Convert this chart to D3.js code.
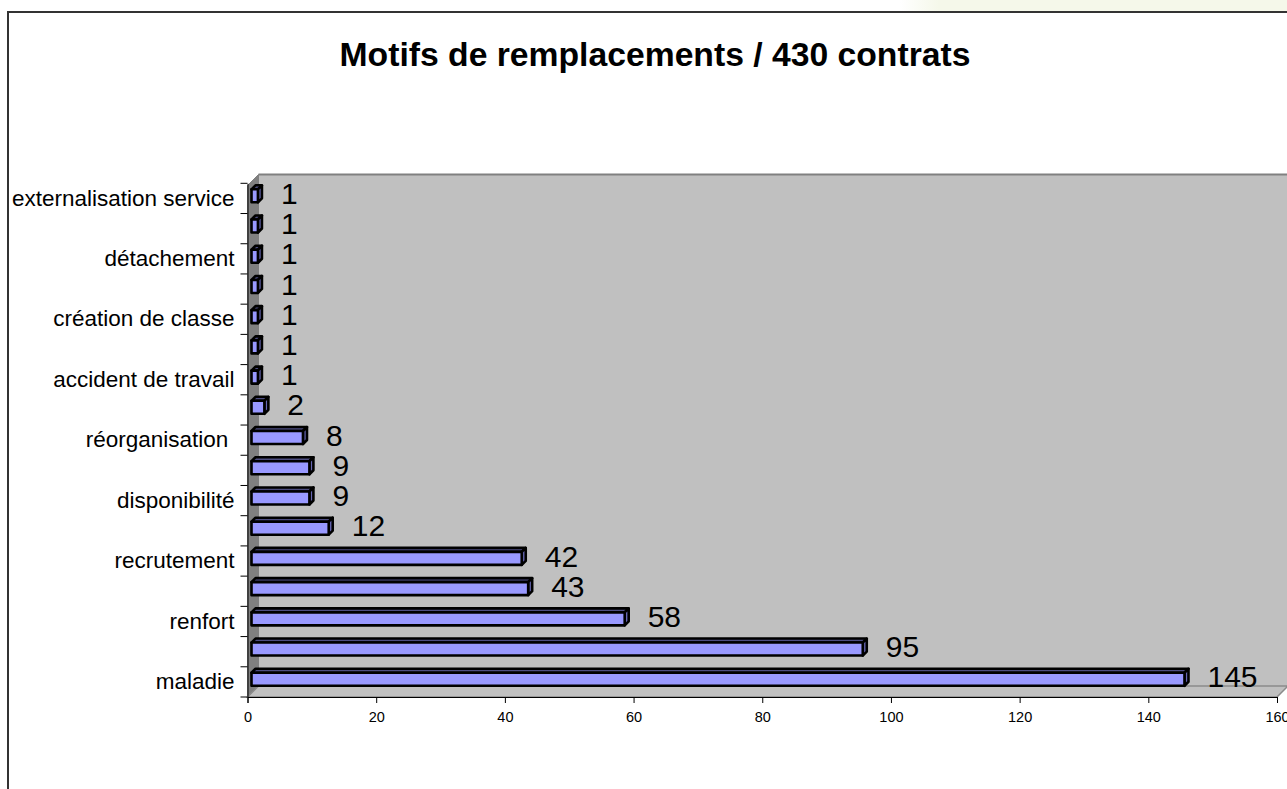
<!DOCTYPE html>
<html>
<head>
<meta charset="utf-8">
<script src="https://cdn.jsdelivr.net/npm/d3@7/dist/d3.min.js"></script>
<style>
  body { margin: 0; background: #fff; }
  text { font-family: Arial, "Liberation Sans", sans-serif; }
</style>
</head>
<body>
<svg id="chart" width="1287" height="789"></svg>
<script>
// data, bottom to top as in the sheet (only every other label shown)
const categories = ["maladie", "", "renfort", "", "recrutement", "", "disponibilité", "",
  "réorganisation ", "", "accident de travail", "", "création de classe", "", "détachement", "",
  "externalisation service"];
const values = [145, 95, 58, 43, 42, 12, 9, 9, 8, 2, 1, 1, 1, 1, 1, 1, 1];
const xTicks = [0, 20, 40, 60, 80, 100, 120, 140, 160];

const X0 = 247.5, X1 = 1277, YBOT = 697, YTOP = 183.3
const DEPTH = 11          // wall depth, along (+1,-1)
const D1 = 4, D2 = 8      // bar front / back depth

const svg = d3.select("#chart")

// top beige strip
const grad = svg.append("defs").append("linearGradient").attr("id", "fade")
grad.append("stop").attr("offset", "0").attr("stop-color", "#ffffff")
grad.append("stop").attr("offset", "0.1").attr("stop-color", "#f5f8ea")
grad.append("stop").attr("offset", "1").attr("stop-color", "#f5f8ea")
svg.append("rect").attr("x", 900).attr("y", 0).attr("width", 387).attr("height", 11)
  .style("fill", "url(#fade)")

// chart area border
svg.append("rect").attr("x", 8).attr("y", 12).attr("width", 1400).attr("height", 900)
  .style("fill", "#fff").style("stroke", "#333").style("stroke-width", 2)

svg.append("text").attr("x", 655).attr("y", 66).attr("text-anchor", "middle")
  .style("font-size", "33.7px").style("font-weight", "bold")
  .text("Motifs de remplacements / 430 contrats")

const x = d3.scaleLinear().domain([0, 160]).range([X0, X1])
const y = d3.scaleBand().domain(d3.range(categories.length)).range([YBOT, YTOP])

const p = (px, py, d) => [px + d, py - d]
const poly = pts => pts.map(q => q.join(",")).join(" ")

// walls
const wallTop = 185.5
svg.append("polygon")
  .attr("points", poly([[X0 + DEPTH, wallTop - DEPTH], [1300, wallTop - DEPTH], [1300, YBOT - DEPTH], [X0 + DEPTH, YBOT - DEPTH]]))
  .style("fill", "#c0c0c0")
svg.append("line").attr("x1", X0 + DEPTH).attr("x2", 1300)
  .attr("y1", wallTop - DEPTH).attr("y2", wallTop - DEPTH)
  .style("stroke", "#808080").style("stroke-width", 2)
svg.append("polygon")
  .attr("points", poly([[X0, wallTop], p(X0, wallTop, DEPTH), p(X0, YBOT, DEPTH), [X0, YBOT]]))
  .style("fill", "#808080").style("stroke", "#808080")
svg.append("polygon")
  .attr("points", poly([[X0, YBOT], [X1, YBOT], p(X1, YBOT, DEPTH), p(X0, YBOT, DEPTH)]))
  .style("fill", "#c0c0c0").style("stroke", "#8a8a8a").style("stroke-width", 1.5)

// bars
const bars = svg.append("g").selectAll("g").data(values).join("g")
bars.each(function (v, i) {
  const g = d3.select(this)
  const t = y(i) + 10, b = y(i) + 23
  const xa = x(0), xb = x(v)
  const st = sel => sel.style("stroke", "#000").style("stroke-width", 2.6).style("stroke-linejoin", "round")
  st(g.append("polygon")
    .attr("points", poly([p(xa, t, D1), p(xb, t, D1), p(xb, t, D2), p(xa, t, D2)]))
    .style("fill", "#4d4d80"))
  st(g.append("polygon")
    .attr("points", poly([p(xb, t, D1), p(xb, t, D2), p(xb, b, D2), p(xb, b, D1)]))
    .style("fill", "#6666b3"))
  st(g.append("rect")
    .attr("x", xa + D1).attr("y", t - D1)
    .attr("width", xb - xa).attr("height", b - t)
    .style("fill", "#9999ff"))
})

// value labels
svg.append("g").selectAll("text").data(values).join("text")
  .attr("x", (v) => x(v) + 27)
  .attr("y", (v, i) => y(i) + y.bandwidth() / 2 - 5)
  .attr("dominant-baseline", "central")
  .style("font-size", "30px")
  .text(v => v)

// y axis
const yAxis = svg.append("g").attr("transform", `translate(${X0},0)`)
  .call(d3.axisLeft(y).tickSize(0).tickPadding(13).tickFormat(i => categories[i]))
yAxis.select(".domain").attr("stroke", "#000")
yAxis.selectAll("text").style("font-size", "22.5px").style("font-family", "Arial, 'Liberation Sans', sans-serif")
  .style("white-space", "pre").attr("fill", "#000")
yAxis.selectAll(".bnd").data(d3.range(categories.length + 1)).join("line")
  .attr("x1", -7).attr("x2", 0)
  .attr("y1", k => YBOT - k * y.step()).attr("y2", k => YBOT - k * y.step())
  .attr("stroke", "#000")

// x axis
const xAxis = svg.append("g").attr("transform", `translate(0,${YBOT})`)
  .call(d3.axisBottom(x).tickValues(xTicks).tickSize(6).tickPadding(9))
xAxis.select(".domain").attr("stroke", "#000")
xAxis.selectAll("text").style("font-size", "14.5px").style("font-family", "Arial, 'Liberation Sans', sans-serif").attr("fill", "#000")
</script>
</body>
</html>
